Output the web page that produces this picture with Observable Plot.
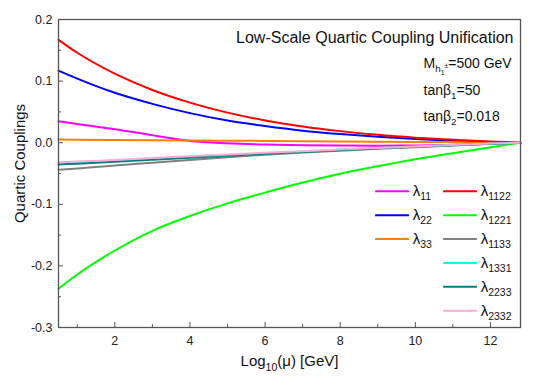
<!DOCTYPE html>
<html><head><meta charset="utf-8">
<script src="https://cdn.jsdelivr.net/npm/d3@7"></script>
<script src="https://cdn.jsdelivr.net/npm/@observablehq/plot@0.6"></script>
<style>
body{margin:0;background:#fff;}
#chart svg{font-family:"Liberation Sans",Arial,Helvetica,sans-serif;background:#fff;}
</style></head><body><div id="chart"></div>
<script>
// ---- data ----
const mu = [0.5, 1, 2, 3, 4, 5, 6, 7, 8, 9, 10, 11, 12, 12.8];
const lambda11   = [0.035, 0.0305, 0.022, 0.012, 0.0027, -0.001, -0.003, -0.004, -0.0045, -0.0048, -0.0045, -0.0035, -0.0015, 0];
const lambda22   = [0.117, 0.104, 0.081, 0.063, 0.048, 0.036, 0.027, 0.0195, 0.014, 0.0095, 0.006, 0.0033, 0.0012, 0];
const lambda33   = [0.005, 0.0048, 0.0045, 0.0041, 0.0037, 0.0033, 0.0029, 0.0025, 0.0021, 0.0017, 0.0013, 0.0009, 0.0004, 0];
const lambda1122 = [0.167, 0.146, 0.112, 0.0856, 0.065, 0.0488, 0.0362, 0.0264, 0.0188, 0.0128, 0.0082, 0.0046, 0.0018, 0];
const lambda1221 = [-0.237, -0.214, -0.175, -0.143, -0.119, -0.0985, -0.081, -0.0647, -0.0503, -0.0382, -0.027, -0.017, -0.0073, 0];
const lambda1133 = [-0.044, -0.042, -0.037, -0.0325, -0.028, -0.0235, -0.0195, -0.016, -0.013, -0.010, -0.0072, -0.0045, -0.002, 0];
const lambda1331 = [-0.034, -0.0325, -0.0295, -0.0265, -0.0235, -0.0203, -0.0172, -0.0143, -0.0115, -0.0088, -0.0062, -0.0038, -0.0016, 0];
const lambda2233 = [-0.0355, -0.034, -0.031, -0.0278, -0.0245, -0.021, -0.018, -0.015, -0.012, -0.0092, -0.0065, -0.004, -0.0017, 0];
const lambda2332 = [-0.032, -0.0305, -0.028, -0.025, -0.022, -0.019, -0.0165, -0.0137, -0.011, -0.0085, -0.006, -0.0037, -0.0015, 0];

const seriesKeys   = ["11", "22", "33", "1122", "1221", "1133", "1331", "2233", "2332"];
const seriesColors = ["#ff00ff", "#0000ff", "#ff8000", "#ff0000", "#00ff00", "#808080", "#00ffff", "#008080", "#ffaad5"];
const seriesValues = [lambda11, lambda22, lambda33, lambda1122, lambda1221, lambda1133, lambda1331, lambda2233, lambda2332];

const yTicks = [-0.3, -0.2, -0.1, 0, 0.1, 0.2];
const yMinorTicks = [-0.25, -0.15, -0.05, 0.05, 0.15];
const xTicks = [2, 4, 6, 8, 10, 12];
const xMinorTicks = [1, 3, 5, 7, 9, 11];

const titleText = "Low-Scale Quartic Coupling Unification";
const annotLines = ["M_{h_{1}^{±}}=500 GeV", "tanβ_{1}=50", "tanβ_{2}=0.018"];
const xLabel = "Log_{10}(μ) [GeV]";
const yLabel = "Quartic Couplings";

// ---- build tables ----
const rows = [];
seriesKeys.forEach((k, i) => mu.forEach((m, j) => rows.push({key: k, mu: m, value: seriesValues[i][j]})));

// legend layout (in data units): two columns, rows 24px apart
const legendItems = seriesKeys.map((k, i) => {
  const col = i < 3 ? 0 : 1, row = i < 3 ? i : i - 3;
  const x0 = col === 0 ? 8.93 : 10.74;
  return {key: k, label: "λ_{" + k + "}", x1: x0, x2: x0 + 0.9, tx: x0 + 1.0, y: -0.0788 - row * 0.0388};
});

const chart = Plot.plot({
  width: 540, height: 386,
  marginLeft: 58, marginRight: 20, marginTop: 19, marginBottom: 59,
  x: {domain: [0.5, 12.8]},
  y: {domain: [-0.3, 0.2]},
  color: {domain: seriesKeys, range: seriesColors},
  style: {fontFamily: "Liberation Sans, Arial, sans-serif", fontSize: "12.5px", color: "#222", background: "#fff"},
  marks: [
    Plot.axisY(yTicks, {tickSize: -5, tickPadding: 11, tickFormat: d => d.toFixed(1), label: null, stroke: "#555", fill: "#222", fontSize: 12.5}),
    Plot.axisY(yMinorTicks, {tickSize: -3, label: null, stroke: "#555", fill: "none"}),
    Plot.axisX(xTicks, {tickSize: -5, tickPadding: 14, tickFormat: d => String(d), label: null, stroke: "#555", fill: "#222", fontSize: 12.5}),
    Plot.axisX(xMinorTicks, {tickSize: -3, label: null, stroke: "#555", fill: "none"}),
    Plot.line(rows, {x: "mu", y: "value", z: "key", stroke: "key", strokeWidth: 2, curve: "monotone-x"}),
    Plot.frame({stroke: "#555", strokeWidth: 1.3}),
    // legend
    Plot.link(legendItems, {x1: "x1", x2: "x2", y1: "y", y2: "y", stroke: "key", strokeWidth: 2}),
    Plot.text(legendItems, {x: "tx", y: "y", text: "label", textAnchor: "start", lineAnchor: "middle", fontSize: 15, fill: "#111"}),
    // annotations
    Plot.text([titleText], {frameAnchor: "top-right", text: d => d, textAnchor: "end", lineAnchor: "middle", dx: -7, dy: 18, fontSize: 16, fill: "#111"}),
    Plot.text([annotLines[0]], {frameAnchor: "top-left", text: d => d, textAnchor: "start", lineAnchor: "middle", dx: 365, dy: 44, fontSize: 14, fill: "#111"}),
    Plot.text([annotLines[1]], {frameAnchor: "top-left", text: d => d, textAnchor: "start", lineAnchor: "middle", dx: 365, dy: 71, fontSize: 14, fill: "#111"}),
    Plot.text([annotLines[2]], {frameAnchor: "top-left", text: d => d, textAnchor: "start", lineAnchor: "middle", dx: 365, dy: 97, fontSize: 14, fill: "#111"}),
    // axis titles
    Plot.text([xLabel], {frameAnchor: "bottom", text: d => d, textAnchor: "middle", lineAnchor: "middle", dy: 34, fontSize: 15, fill: "#111"}),
    Plot.text([yLabel], {frameAnchor: "left", text: d => d, textAnchor: "middle", lineAnchor: "middle", rotate: -90, dx: -38, dy: -10, fontSize: 15, fill: "#111"})
  ]
});

document.getElementById("chart").appendChild(chart);

// ---- rich text: turn _{..} and ^{..} into real sub/superscript tspans ----
function parseRich(str) {
  const segs = [];
  function walk(s, shift, scale) {
    let buf = "";
    let i = 0;
    const flush = () => { if (buf) { segs.push({t: buf, shift, scale}); buf = ""; } };
    while (i < s.length) {
      const c = s[i];
      if ((c === "_" || c === "^") && s[i + 1] === "{") {
        let depth = 0, j = i + 1;
        for (; j < s.length; j++) {
          if (s[j] === "{") depth++;
          else if (s[j] === "}") { depth--; if (depth === 0) break; }
        }
        flush();
        walk(s.slice(i + 2, j), shift + (c === "_" ? 0.28 : -0.38) * scale, scale * 0.7);
        i = j + 1;
      } else { buf += c; i++; }
    }
    flush();
  }
  walk(str, 0, 1);
  return segs;
}
chart.querySelectorAll("text").forEach(el => {
  const s = el.textContent;
  if (!/[_^]\{/.test(s) || el.querySelector("tspan")) return;
  const base = parseFloat(getComputedStyle(el).fontSize) || 14;
  const segs = parseRich(s);
  el.textContent = "";
  let prev = 0;
  segs.forEach(sg => {
    const ts = document.createElementNS("http://www.w3.org/2000/svg", "tspan");
    ts.textContent = sg.t;
    ts.setAttribute("font-size", (base * sg.scale).toFixed(2));
    const d = (sg.shift - prev) * base;
    if (d) ts.setAttribute("dy", d.toFixed(2));
    prev = sg.shift;
    el.appendChild(ts);
  });
});
</script>
</body></html>
